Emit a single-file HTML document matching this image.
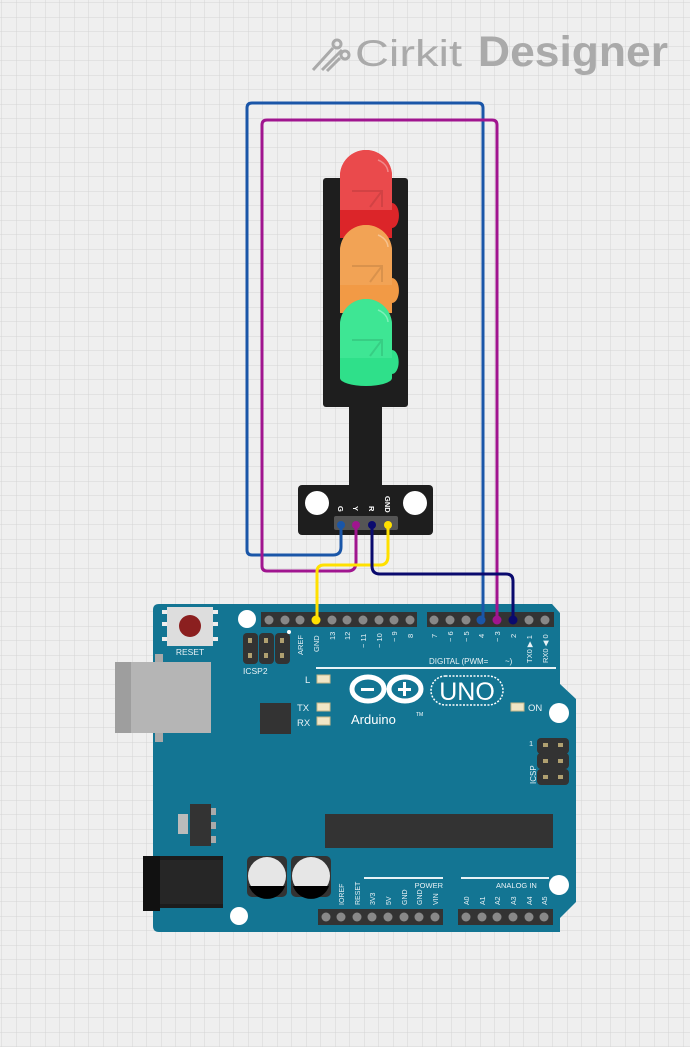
<!DOCTYPE html>
<html><head><meta charset="utf-8"><style>
html,body{margin:0;padding:0;background:#f0f0f0;}
svg{display:block;font-family:"Liberation Sans",Arial,sans-serif;}
</style></head><body>
<svg width="690" height="1047" viewBox="0 0 690 1047" xmlns="http://www.w3.org/2000/svg">
<defs>
<pattern id="g" x="2" y="3" width="14.5" height="14.5" patternUnits="userSpaceOnUse">
<path d="M14.5 0V14.5H0" fill="none" stroke="#d4d4d4" stroke-width="1"/>
</pattern>
</defs>
<rect width="690" height="1047" fill="#efefef"/>
<rect width="690" height="1047" fill="url(#g)"/>

<!-- logo -->
<g stroke="#aaa" stroke-width="3" fill="none">
<path d="M313 70 L333 48"/><circle cx="337" cy="44" r="4"/>
<path d="M322 70 L342 50"/>
<path d="M327 71 L340 58"/><circle cx="345" cy="55" r="4"/>
</g>
<text x="355" y="66" font-size="37" fill="#aaa" textLength="107" lengthAdjust="spacingAndGlyphs">Cirkit</text>
<text x="478" y="66" font-size="43" font-weight="bold" fill="#aaa" textLength="190" lengthAdjust="spacingAndGlyphs">Designer</text>

<!-- Arduino board -->
<path d="M159 604 L552 604 L560 613 L560 684 L576 699 L576 902 L560 918 L560 932 L159 932 Q153 932 153 926 L153 610 Q153 604 159 604Z" fill="#137593"/>
<!-- USB -->
<rect x="155" y="654" width="8" height="88" fill="#a9a9a9"/>
<rect x="115" y="662" width="96" height="71" fill="#b5b5b5"/>
<rect x="115" y="662" width="16" height="71" fill="#9e9e9e"/>
<!-- reset -->
<rect x="162" y="610" width="56" height="4" fill="#eee"/>
<rect x="162" y="622" width="56" height="4" fill="#eee"/>
<rect x="162" y="637" width="56" height="4" fill="#eee"/>
<rect x="167" y="607" width="46" height="39" fill="#ddd"/>
<circle cx="190" cy="626" r="11" fill="#8b1f1f"/>
<text x="190" y="655" font-size="8.5" fill="#e8f2f6" text-anchor="middle">RESET</text>
<circle cx="247" cy="619" r="9" fill="#fff"/>
<!-- ICSP2 -->
<g fill="#333"><rect x="243" y="633" width="15" height="31" rx="4"/><rect x="259" y="633" width="15" height="31" rx="4"/><rect x="275" y="633" width="15" height="31" rx="4"/></g>
<g fill="#b0a070"><rect x="248" y="638" width="4" height="5"/><rect x="264" y="638" width="4" height="5"/><rect x="280" y="638" width="4" height="5"/><rect x="248" y="653" width="4" height="5"/><rect x="264" y="653" width="4" height="5"/><rect x="280" y="653" width="4" height="5"/></g>
<circle cx="289" cy="632" r="2" fill="#fff"/>
<text x="243" y="674" font-size="8.5" fill="#e8f2f6">ICSP2</text>
<!-- headers top -->
<rect x="261" y="612" width="156" height="15" fill="#333"/>
<rect x="427" y="612" width="127" height="15" fill="#333"/>
<g fill="#888">
<circle cx="269" cy="620" r="4.5"/><circle cx="285" cy="620" r="4.5"/><circle cx="300" cy="620" r="4.5"/><circle cx="332" cy="620" r="4.5"/><circle cx="347" cy="620" r="4.5"/><circle cx="363" cy="620" r="4.5"/><circle cx="379" cy="620" r="4.5"/><circle cx="394" cy="620" r="4.5"/><circle cx="410" cy="620" r="4.5"/>
<circle cx="434" cy="620" r="4.5"/><circle cx="450" cy="620" r="4.5"/><circle cx="466" cy="620" r="4.5"/><circle cx="529" cy="620" r="4.5"/><circle cx="545" cy="620" r="4.5"/>
</g>
<g font-size="7.5" fill="#e8f2f6">
<text transform="translate(303,655) rotate(-90)">AREF</text>
<text transform="translate(319,652) rotate(-90)">GND</text>
<text transform="translate(335,640) rotate(-90)">13</text>
<text transform="translate(350,640) rotate(-90)">12</text>
<text transform="translate(366,648) rotate(-90)">~ 11</text>
<text transform="translate(382,648) rotate(-90)">~ 10</text>
<text transform="translate(397,642) rotate(-90)">~ 9</text>
<text transform="translate(413,638) rotate(-90)">8</text>
<text transform="translate(437,638) rotate(-90)">7</text>
<text transform="translate(453,642) rotate(-90)">~ 6</text>
<text transform="translate(469,642) rotate(-90)">~ 5</text>
<text transform="translate(484,638) rotate(-90)">4</text>
<text transform="translate(500,642) rotate(-90)">~ 3</text>
<text transform="translate(516,638) rotate(-90)">2</text>
<text transform="translate(532,663) rotate(-90)">TX0 ▶ 1</text>
<text transform="translate(548,663) rotate(-90)">RX0 ◀ 0</text>
<text x="429" y="664" font-size="8">DIGITAL (PWM=</text>
<text x="505" y="664" font-size="8">~)</text>
</g>
<rect x="316" y="667" width="240" height="2" fill="#e8f2f6"/>
<!-- LEDs small -->
<g fill="#f1e6c6" stroke="#c8b88a" stroke-width="1"><rect x="317" y="675" width="13" height="8"/><rect x="317" y="703" width="13" height="8"/><rect x="317" y="717" width="13" height="8"/><rect x="511" y="703" width="13" height="8"/></g>
<g font-size="9.5" fill="#e8f2f6"><text x="305" y="683">L</text><text x="297" y="711">TX</text><text x="297" y="726">RX</text><text x="528" y="711">ON</text></g>
<!-- Arduino logo -->
<g fill="none" stroke="#fff" stroke-width="5">
<ellipse cx="368" cy="689" rx="16" ry="12"/><ellipse cx="405" cy="689" rx="16" ry="12"/>
</g>
<g fill="#fff"><rect x="361" y="688" width="13" height="3"/><rect x="398" y="688" width="13" height="3"/><rect x="403" y="682" width="3" height="14"/></g>
<text x="351" y="724" font-size="13" fill="#fff">Arduino</text>
<text x="416" y="716" font-size="5" fill="#fff">TM</text>
<rect x="431" y="676" width="72" height="29" rx="14.5" fill="none" stroke="#fff" stroke-width="1.5" stroke-dasharray="2 1.5"/>
<text x="467" y="700" font-size="25" fill="#fff" text-anchor="middle">UNO</text>
<circle cx="559" cy="713" r="10" fill="#fff"/>
<!-- chip -->
<rect x="260" y="703" width="31" height="31" fill="#333"/>
<!-- ICSP -->
<g fill="#333"><rect x="537" y="738" width="32" height="16" rx="4"/><rect x="537" y="753" width="32" height="16" rx="4"/><rect x="537" y="769" width="32" height="16" rx="4"/></g>
<g fill="#b0a070"><rect x="543" y="743" width="5" height="4"/><rect x="558" y="743" width="5" height="4"/><rect x="543" y="759" width="5" height="4"/><rect x="558" y="759" width="5" height="4"/><rect x="543" y="775" width="5" height="4"/><rect x="558" y="775" width="5" height="4"/></g>
<text x="529" y="746" font-size="7.5" fill="#e8f2f6">1</text>
<text transform="translate(536,784) rotate(-90)" font-size="8" fill="#e8f2f6">ICSP</text>
<!-- regulator -->
<rect x="178" y="814" width="10" height="20" fill="#bbb"/>
<rect x="208" y="808" width="8" height="7" fill="#aaa"/><rect x="208" y="822" width="8" height="7" fill="#aaa"/><rect x="208" y="836" width="8" height="7" fill="#aaa"/>
<rect x="190" y="804" width="21" height="42" fill="#333"/>
<!-- DIP -->
<rect x="325" y="814" width="228" height="34" fill="#333"/>
<!-- jack -->
<rect x="143" y="856" width="80" height="52" fill="#1c1c1c"/>
<rect x="160" y="860" width="63" height="44" fill="#262626"/>
<rect x="143" y="856" width="17" height="55" fill="#111"/>
<circle cx="239" cy="916" r="9" fill="#fff"/>
<!-- caps -->
<rect x="247" y="856" width="40" height="41" rx="5" fill="#333"/>
<rect x="291" y="856" width="40" height="41" rx="5" fill="#333"/>
<circle cx="267" cy="876" r="19" fill="#e6e6e6"/><circle cx="311" cy="876" r="19" fill="#e6e6e6"/>
<path d="M249 886 L285 886 A19 19 0 0 1 249 886Z" fill="#000"/>
<path d="M293 886 L329 886 A19 19 0 0 1 293 886Z" fill="#000"/>
<!-- bottom headers -->
<rect x="364" y="877" width="79" height="2" fill="#e8f2f6"/>
<rect x="461" y="877" width="88" height="2" fill="#e8f2f6"/>
<circle cx="559" cy="885" r="10" fill="#fff"/>
<g font-size="7.5" fill="#e8f2f6"><text x="443" y="888" text-anchor="end">POWER</text><text x="496" y="888">ANALOG IN</text></g>
<rect x="318" y="909" width="125" height="16" fill="#333"/>
<rect x="458" y="909" width="95" height="16" fill="#333"/>
<g fill="#888">
<circle cx="326" cy="917" r="4.5"/><circle cx="341" cy="917" r="4.5"/><circle cx="357" cy="917" r="4.5"/><circle cx="372" cy="917" r="4.5"/><circle cx="388" cy="917" r="4.5"/><circle cx="404" cy="917" r="4.5"/><circle cx="419" cy="917" r="4.5"/><circle cx="435" cy="917" r="4.5"/>
<circle cx="466" cy="917" r="4.5"/><circle cx="482" cy="917" r="4.5"/><circle cx="497" cy="917" r="4.5"/><circle cx="513" cy="917" r="4.5"/><circle cx="529" cy="917" r="4.5"/><circle cx="544" cy="917" r="4.5"/>
</g>
<g font-size="7" fill="#e8f2f6">
<text transform="translate(344,905) rotate(-90)">IOREF</text>
<text transform="translate(360,905) rotate(-90)">RESET</text>
<text transform="translate(375,905) rotate(-90)">3V3</text>
<text transform="translate(391,905) rotate(-90)">5V</text>
<text transform="translate(407,905) rotate(-90)">GND</text>
<text transform="translate(422,905) rotate(-90)">GND</text>
<text transform="translate(438,905) rotate(-90)">VIN</text>
<text transform="translate(469,905) rotate(-90)">A0</text>
<text transform="translate(485,905) rotate(-90)">A1</text>
<text transform="translate(500,905) rotate(-90)">A2</text>
<text transform="translate(516,905) rotate(-90)">A3</text>
<text transform="translate(532,905) rotate(-90)">A4</text>
<text transform="translate(547,905) rotate(-90)">A5</text>
</g>

<!-- Traffic light -->
<rect x="323" y="178" width="85" height="229" rx="3" fill="#1e1e1e"/>
<rect x="349" y="405" width="33" height="85" fill="#1e1e1e"/>
<rect x="298" y="485" width="135" height="50" rx="4" fill="#1e1e1e"/>
<circle cx="317" cy="503" r="12" fill="#fff"/><circle cx="415" cy="503" r="12" fill="#fff"/>
<g font-size="7.5" fill="#fff" font-weight="bold">
<text transform="translate(338,506) rotate(90)">G</text>
<text transform="translate(353,506) rotate(90)">Y</text>
<text transform="translate(369,506) rotate(90)">R</text>
<text transform="translate(385,496) rotate(90)">GND</text>
</g>
<rect x="334" y="516" width="64" height="14" rx="2" fill="#555"/>
<!-- LED domes -->
<g>
<path d="M340 238 L340 176 A26 26 0 0 1 392 176 L392 203 A5 9 0 0 1 392 228 L392 238Z" fill="#e7262a" opacity="0.95"/>
<path d="M340 176 A26 26 0 0 1 392 176 L392 210 L340 210Z" fill="#ea4a4c"/>
<path d="M340 313 L340 251 A26 26 0 0 1 392 251 L392 278 A5 9 0 0 1 392 303 L392 313Z" fill="#f29a45"/>
<path d="M340 251 A26 26 0 0 1 392 251 L392 285 L340 285Z" fill="#f2a355"/>
<path d="M340 385 L340 325 A26 26 0 0 1 392 325 L392 350 A5 9 0 0 1 392 374 L392 378 A26 8 0 0 1 340 378Z" fill="#2fe08a"/>
<path d="M340 325 A26 26 0 0 1 392 325 L392 358 L340 358Z" fill="#3ee694"/>
<g fill="none" stroke="#fff" stroke-opacity="0.35" stroke-width="1.5"><path d="M378 160 A18 14 0 0 1 388 172"/><path d="M378 235 A18 14 0 0 1 388 247"/><path d="M378 310 A18 14 0 0 1 388 322"/></g>
<g fill="none" stroke="#000" stroke-opacity="0.1" stroke-width="2"><path d="M352 191 H382 V207 M370 207 L382 191"/><path d="M352 266 H382 V282 M370 282 L382 266"/><path d="M352 340 H382 V356 M370 356 L382 340"/></g>
</g>

<!-- Wires -->
<g fill="none" stroke-width="3" stroke-linejoin="round">
<path d="M341 525 V547 Q341 555 333 555 H252 Q247 555 247 550 V108 Q247 103 252 103 H478 Q483 103 483 108 V620" stroke="#1a56a8"/>
<path d="M356 525 V562 Q356 571 348 571 H267 Q262 571 262 566 V125 Q262 120 267 120 H492 Q497 120 497 125 V620" stroke="#a0158f"/>
<path d="M388 525 V556 Q388 565 380 565 H324 Q317 565 317 572 V620" stroke="#ffe000"/>
<path d="M372 525 V566 Q372 574 380 574 H506 Q513 574 513 581 V620" stroke="#0a0a6e"/>
</g>
<circle cx="341" cy="525" r="4" fill="#1a56a8"/><circle cx="356" cy="525" r="4" fill="#a0158f"/><circle cx="372" cy="525" r="4" fill="#0a0a6e"/><circle cx="388" cy="525" r="4" fill="#ffe000"/>
<circle cx="316" cy="620" r="4.5" fill="#ffe000"/><circle cx="481" cy="620" r="4.5" fill="#1a56a8"/><circle cx="497" cy="620" r="4.5" fill="#a0158f"/><circle cx="513" cy="620" r="4.5" fill="#0a0a6e"/>
</svg>
</body></html>
